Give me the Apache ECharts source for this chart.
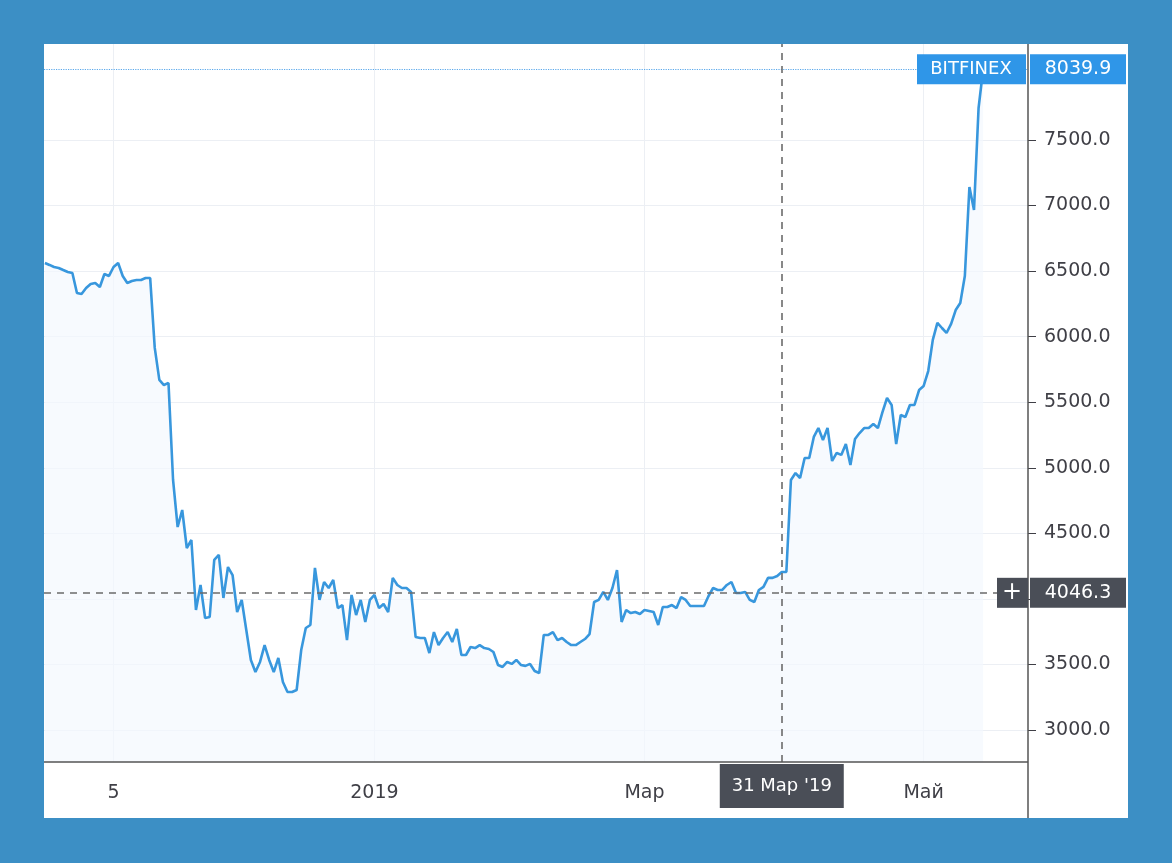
<!DOCTYPE html>
<html><head><meta charset="utf-8">
<script src="https://cdn.jsdelivr.net/npm/echarts@6/dist/echarts.min.js"></script>
<style>html,body{margin:0;padding:0;background:#3c8fc5;}#c{width:1172px;height:863px;}</style>
</head><body><div id="c"></div>
<script>
const startDate = '2018-10-21';
const prices = [
6562,6547,6531,6524,6508,6493,6485,6333,6325,6371,6402,6409,6379,6478,6463,6531,6562,6463,6409,6424,6432,6432,6447,6447,
5914,5670,5631,5647,4907,4548,4678,4388,4449,3915,4106,3854,3862,4297,4335,4007,4243,4182,3900,3992,3763,3534,3442,3519,
3648,3534,3442,3549,3366,3290,3290,3305,3610,3778,3801,4236,3992,4129,4083,4144,3930,3953,3686,4030,3877,3992,3824,3992,
4030,3930,3961,3900,4160,4106,4083,4083,4053,3709,3702,3702,3587,3747,3648,3702,3747,3671,3770,3572,3572,3633,3625,3648,
3625,3618,3595,3496,3481,3519,3504,3534,3496,3489,3504,3450,3435,3725,3725,3747,3686,3702,3671,3648,3648,3671,3694,3732,
3976,3992,4053,3992,4083,4220,3824,3915,3892,3900,3885,3915,3908,3900,3801,3938,3938,3953,3930,4014,3992,3946,3946,3946,
3946,4022,4083,4068,4068,4106,4129,4045,4045,4053,3992,3976,4068,4091,4160,4160,4175,4205,4205,4907,4960,4922,5075,5075,
5235,5303,5212,5303,5052,5113,5098,5181,5021,5219,5265,5303,5303,5334,5303,5425,5532,5479,5181,5402,5387,5479,5479,5593,
5624,5738,5975,6105,6066,6028,6097,6203,6257,6463,7141,6966,7744,8039.9];
const yTicks = [3000,3500,4000,4500,5000,5500,6000,6500,7000,7500];
const xTickDates = ['2018-11-05','2019-01-01','2019-03-01','2019-05-01'];
const xTickLabels = ['5','2019','Мар','Май'];
const lastPrice = 8039.9, crossPrice = 4046.3, crossDate = '2019-03-31T00:00', crossLabel = "31 Мар '19", exchange = 'BITFINEX';

const DAY = 86400000, t0 = Date.parse(startDate+'T00:00:00Z');
const data = prices.map((v,i)=>[t0+i*DAY, v]);
const xTicks = xTickDates.map(d=>Date.parse(d+'T00:00:00Z'));
const crossT = Date.parse(crossDate+':00Z');
const lab = {}; xTicks.forEach((t,i)=>lab[t]=xTickLabels[i]);

const chart = echarts.init(document.getElementById('c'));
const F = 'DejaVu Sans';
chart.setOption({
  animation:false,
  grid:{left:44,right:144,top:44,bottom:101},
  xAxis:{type:'value',min:t0-0.2*DAY,max:t0+214.8*DAY,
    axisLine:{show:false},axisTick:{show:false,customValues:xTicks},
    splitLine:{show:true,lineStyle:{color:'#eceff4'}},
    axisLabel:{customValues:xTicks,formatter:v=>lab[v]||'',color:'#3f3f46',fontSize:19,fontFamily:F,margin:22}},
  yAxis:{type:'value',position:'right',min:2756,max:8232,
    axisLine:{show:false},
    axisTick:{show:true,customValues:yTicks,length:8,lineStyle:{color:'#3f3f46'}},
    splitLine:{show:true,lineStyle:{color:'#eceff4'}},
    axisLabel:{customValues:yTicks,formatter:v=>v.toFixed(1),color:'#3f3f46',fontSize:19,fontFamily:F,margin:16}},
  series:[{type:'line',data:data,showSymbol:false,symbol:'none',lineStyle:{color:'#3897dd',width:2.6},
    areaStyle:{color:'#f3f8fd',origin:'start'},
    markLine:{silent:true,symbol:'none',label:{show:false},data:[
      {yAxis:lastPrice,lineStyle:{color:'#5aa8ec',type:'dotted',width:1.2}},
      {yAxis:crossPrice,lineStyle:{color:'#6b6b6b',type:[7,6],width:1.6}},
      {xAxis:crossT,lineStyle:{color:'#6b6b6b',type:[7,6],width:1.6}}
    ]}}]
});
function draw(){
  const pL = chart.convertToPixel({gridIndex:0},[t0,lastPrice]);
  const pC = chart.convertToPixel({gridIndex:0},[crossT,crossPrice]);
  const yL = pL[1], yC = pC[1], xC = pC[0];
  const g = [{type:'rect',z:-10,shape:{x:44,y:44,width:1084,height:774},style:{fill:'#fff'}},
    {type:'line',shape:{x1:1028,y1:44,x2:1028,y2:818},style:{stroke:'#555',lineWidth:1.5},z:50},
    {type:'line',shape:{x1:44,y1:762,x2:1028,y2:762},style:{stroke:'#555',lineWidth:1.5},z:50},
    {type:'rect',shape:{x:917,y:yL-15,width:109,height:30},style:{fill:'#2f96e8'},z:60},
    {type:'text',x:971,y:yL,style:{text:exchange,fill:'#fff',font:'18px '+F,align:'center',verticalAlign:'middle'},z:61},
    {type:'rect',shape:{x:1030,y:yL-15,width:96,height:30},style:{fill:'#2f96e8'},z:60},
    {type:'text',x:1078,y:yL,style:{text:lastPrice.toFixed(1),fill:'#fff',font:'19px '+F,align:'center',verticalAlign:'middle'},z:61},
    {type:'rect',shape:{x:997,y:yC-15,width:31,height:30},style:{fill:'#4a4e57'},z:60},
    {type:'text',x:1012,y:yC,style:{text:'+',fill:'#fff',font:'24px '+F,align:'center',verticalAlign:'middle'},z:61},
    {type:'rect',shape:{x:1030,y:yC-15,width:96,height:30},style:{fill:'#4a4e57'},z:60},
    {type:'text',x:1078,y:yC,style:{text:crossPrice.toFixed(1),fill:'#fff',font:'19px '+F,align:'center',verticalAlign:'middle'},z:61},
    {type:'rect',shape:{x:xC-62,y:764,width:124,height:44},style:{fill:'#4a4e57'},z:60},
    {type:'text',x:xC,y:786,style:{text:crossLabel,fill:'#fff',font:'18px '+F,align:'center',verticalAlign:'middle'},z:61}
  ];
  chart.setOption({graphic:g});
}
draw();
</script></body></html>
